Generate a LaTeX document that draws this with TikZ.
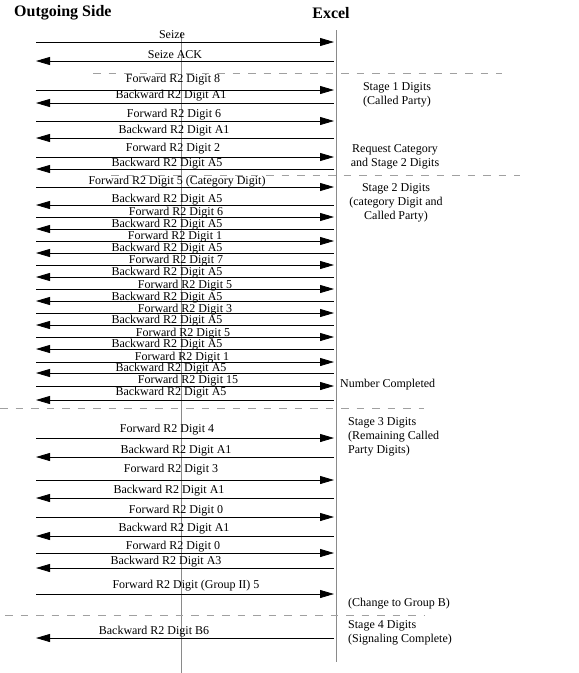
\documentclass[tikz,border=0pt]{standalone}
\usepackage{fontspec}
\setmainfont{Liberation Serif}
\usepackage{tikz}
\usetikzlibrary{arrows.meta}
\definecolor{lifegray}{HTML}{8A8A8A}
\definecolor{sepgray}{HTML}{A0A0A0}
% one message: name, style, arrow y, label x, label y, text
\newcommand{\msg}[6]{%
  \coordinate (#1o) at (36,#3);
  \coordinate (#1e) at (334,#3);
  \node[lbl] (#1) at (#4,#5) {#6};
  \draw[#2] (#1o) -- (#1e);
}

\begin{document}
\begin{tikzpicture}[
  x=1pt, y=-1pt,
  lbl/.style={inner sep=0pt, font=\fontsize{12}{14}\selectfont},
  note/.style={inner sep=0pt, align=center, font=\fontsize{12}{14}\selectfont},
  lnote/.style={inner sep=0pt, align=left, anchor=west, font=\fontsize{12}{14}\selectfont},
  head/.style={inner sep=0pt, font=\bfseries\fontsize{16}{19}\selectfont},
  fwd/.style={-{Triangle[length=14pt,width=8pt]}, line width=0.8pt},
  bwd/.style={{Triangle[length=14pt,width=8pt]}-, line width=0.8pt},
  life/.style={lifegray, line width=0.6pt},
  sep/.style={sepgray, line width=0.6pt, dash pattern=on 7.5pt off 8pt}
]
\useasboundingbox (0,0) rectangle (579,673);

\node[head, anchor=west] (out) at (14,13) {Outgoing Side};
\node[head] (exc) at (331,13) {Excel};

\coordinate (exTop) at (336,30);
\coordinate (exBot) at (336,662);
\coordinate (midTop) at (181,32);
\coordinate (midBot) at (181,673);
\draw[life] (exTop) -- (exBot);
\draw[life] (midTop) -- (midBot);

% stage borders
\coordinate (s1a) at (93,73);  \coordinate (s1b) at (502,73);
\coordinate (s2a) at (111,175); \coordinate (s2b) at (520,175);
\coordinate (s3a) at (0,408);  \coordinate (s3b) at (424,408);
\coordinate (s4a) at (5,615);  \coordinate (s4b) at (424,615);
\draw[sep] (s1a) -- (s1b);
\draw[sep] (s2a) -- (s2b);
\draw[sep] (s3a) -- (s3b);
\draw[sep] (s4a) -- (s4b);

\msg{seize}{fwd}{42}{172}{35}{Seize}
\msg{ack}{bwd}{61}{175}{55}{Seize ACK}
\msg{fa}{fwd}{90}{173}{80}{Forward R2 Digit 8}
\msg{ba}{bwd}{103}{171}{96}{Backward R2 Digit A1}
\msg{fb}{fwd}{121}{174}{115}{Forward R2 Digit 6}
\msg{bb}{bwd}{138}{174}{131}{Backward R2 Digit A1}
\msg{fc}{fwd}{157}{173}{149}{Forward R2 Digit 2}
\msg{bc}{bwd}{169}{167}{164}{Backward R2 Digit A5}
\msg{fd}{fwd}{187}{177}{182}{Forward R2 Digit 5 (Category Digit)}
\msg{bd}{bwd}{205}{167}{200}{Backward R2 Digit A5}
\msg{fe}{fwd}{217}{176}{212.5}{Forward R2 Digit 6}
\msg{be}{bwd}{229}{167}{224.5}{Backward R2 Digit A5}
\msg{ff}{fwd}{241}{175}{236.5}{Forward R2 Digit 1}
\msg{bf}{bwd}{253}{167}{248.5}{Backward R2 Digit A5}
\msg{fg}{fwd}{265}{176}{261}{Forward R2 Digit 7}
\msg{bg}{bwd}{277}{167}{272.5}{Backward R2 Digit A5}
\msg{fh}{fwd}{289}{185}{286}{Forward R2 Digit 5}
\msg{bh}{bwd}{301}{167}{297.5}{Backward R2 Digit A5}
\msg{fi}{fwd}{313}{185}{310}{Forward R2 Digit 3}
\msg{bi}{bwd}{325}{167}{321}{Backward R2 Digit A5}
\msg{fj}{fwd}{337}{183}{334}{Forward R2 Digit 5}
\msg{bj}{bwd}{349}{167}{345}{Backward R2 Digit A5}
\msg{fk}{fwd}{362}{182}{358}{Forward R2 Digit 1}
\msg{bk}{bwd}{373}{171}{369}{Backward R2 Digit A5}
\msg{fl}{fwd}{386}{188}{381}{Forward R2 Digit 15}
\msg{bl}{bwd}{400}{171}{393}{Backward R2 Digit A5}
\msg{fm}{fwd}{438}{167}{430}{Forward R2 Digit 4}
\msg{bm}{bwd}{457}{176}{451}{Backward R2 Digit A1}
\msg{fn}{fwd}{480}{171}{470}{Forward R2 Digit 3}
\msg{bn}{bwd}{498}{169}{491}{Backward R2 Digit A1}
\msg{fo}{fwd}{517}{176}{511}{Forward R2 Digit 0}
\msg{bo}{bwd}{536}{174}{529}{Backward R2 Digit A1}
\msg{fp}{fwd}{553}{173}{547}{Forward R2 Digit 0}
\msg{bp}{bwd}{568}{166}{562}{Backward R2 Digit A3}
\msg{fq}{fwd}{594}{186}{586}{Forward R2 Digit (Group II) 5}
\msg{bq}{bwd}{638}{154}{632}{Backward R2 Digit B6}

% stage notes
\node[note] (stA) at (397,95) {Stage 1 Digits\\(Called Party)};
\node[note] (req) at (395,157) {Request Category\\and Stage 2 Digits};
\node[note] (stB) at (396,203) {Stage 2 Digits\\(category Digit and\\Called Party)};
\node[lnote] (done) at (340,385) {Number Completed};
\node[lnote] (stC) at (348,437) {Stage 3 Digits\\(Remaining Called\\Party Digits)};
\node[lnote] (grpB) at (348,604) {(Change to Group B)};
\node[lnote] (stD) at (348,633) {Stage 4 Digits\\(Signaling Complete)};
\end{tikzpicture}
\end{document}
